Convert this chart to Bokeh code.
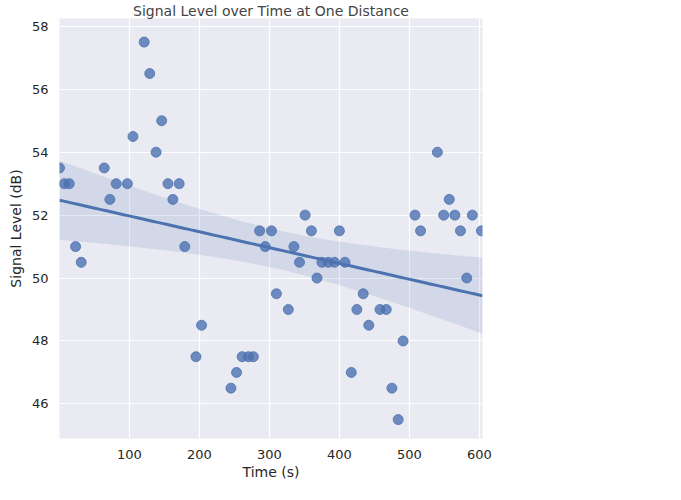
import numpy as np
from bokeh.plotting import figure
from bokeh.models import Legend, LegendItem, ColumnDataSource
from bokeh.embed import file_html
from bokeh.resources import INLINE

time_s = [0, 7, 14, 23, 31, 64, 72, 81, 97, 105, 121, 129, 138, 146, 155, 162, 171, 179,
          195, 203, 245, 253, 261, 270, 277, 286, 294, 303, 310, 327, 335, 343, 351, 360,
          368, 375, 384, 393, 400, 408, 417, 425, 434, 442, 458, 467, 475, 484, 491, 508,
          516, 540, 549, 557, 565, 573, 582, 590, 603]
signal_db = [53.5, 53, 53, 51, 50.5, 53.5, 52.5, 53, 53, 54.5, 57.5, 56.5, 54, 55, 53, 52.5, 53, 51,
             47.5, 48.5, 46.5, 47, 47.5, 47.5, 47.5, 51.5, 51, 51.5, 49.5, 49, 51, 50.5, 52, 51.5,
             50, 50.5, 50.5, 50.5, 51.5, 50.5, 47, 49, 49.5, 48.5, 49, 49, 46.5, 45.5, 48, 52,
             51.5, 54, 52, 52.5, 52, 51.5, 50, 52, 51.5]
transmitter_id = "65477"

x = np.array(time_s, float)
y = np.array(signal_db, float)
n = len(x)
b, a = np.polyfit(x, y, 1)
xs = np.linspace(0, 604.5, 100)
yhat = a + b * xs
resid = y - (a + b * x)
s = np.sqrt((resid ** 2).sum() / (n - 2))
se = s * np.sqrt(1 / n + (xs - x.mean()) ** 2 / ((x - x.mean()) ** 2).sum())
ci = 2.0 * se

blue = "#4c72b0"
font = "DejaVu Sans"

p = figure(frame_width=423, frame_height=420, x_range=(0, 604.5), y_range=(44.9, 58.25),
           output_backend="svg", toolbar_location=None, min_border_left=59,
           min_border_top=2, min_border_right=0, title="Signal Level over Time at One Distance")
p.background_fill_color = "#eaeaf2"
p.border_fill_color = "white"
p.outline_line_color = None
p.title.align = "center"
p.title.text_font = font
p.title.text_font_style = "normal"
p.title.text_font_size = "14px"
p.title.standoff = 0

src = ColumnDataSource(dict(x=xs, lo=yhat - ci, hi=yhat + ci, y=yhat))
p.varea(x="x", y1="lo", y2="hi", source=src, fill_color=blue, fill_alpha=0.15)
pts = p.scatter(time_s, signal_db, size=10, fill_color=blue, line_color=blue, fill_alpha=0.8, line_alpha=0.8)
p.line(x="x", y="y", source=src, line_color=blue, line_width=3)

for ax in (p.xaxis, p.yaxis):
    ax.axis_line_color = None
    ax.major_tick_line_color = None
    ax.minor_tick_line_color = None
    ax.major_label_text_font = font
    ax.major_label_text_font_size = "13px"
    ax.major_label_text_color = "#262626"
    ax.axis_label_text_font = font
    ax.axis_label_text_font_size = "14px"
    ax.axis_label_text_font_style = "normal"
    ax.axis_label_text_color = "#262626"
p.xaxis.ticker = [100, 200, 300, 400, 500, 600]
p.yaxis.ticker = [46, 48, 50, 52, 54, 56, 58]
p.xaxis.axis_label = "Time (s)"
p.yaxis.axis_label = "Signal Level (dB)"
p.xaxis.axis_label_standoff = 2
p.grid.grid_line_color = "white"
p.grid.grid_line_width = 1.2

legend = Legend(items=[LegendItem(label=transmitter_id, renderers=[pts])],
                title="Transmitter ID Number", border_line_color=None,
                background_fill_alpha=0, title_text_font=font, title_text_font_size="13px",
                label_text_font=font, label_text_font_size="13px",
                title_text_color="#262626", label_text_color="#262626",
                margin=2, padding=2, glyph_width=22, label_standoff=18)
p.add_layout(legend, "right")
p.legend.location = "center"

open("out.html", "w").write(file_html(p, INLINE))
